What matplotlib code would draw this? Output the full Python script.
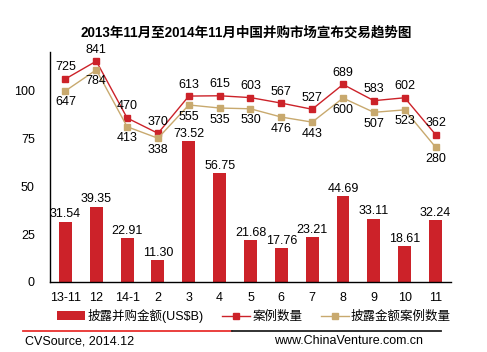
import numpy as np
import matplotlib
matplotlib.use('Agg')
import matplotlib.pyplot as plt
from matplotlib.lines import Line2D

plt.rcParams['font.family'] = ['Liberation Sans', 'Noto Sans CJK SC', 'DejaVu Sans']

months = ['13-11', '12', '14-1', '2', '3', '4', '5', '6', '7', '8', '9', '10', '11']
amount = [31.54, 39.35, 22.91, 11.30, 73.52, 56.75, 21.68, 17.76, 23.21, 44.69, 33.11, 18.61, 32.24]
cases = [725, 841, 470, 370, 613, 615, 603, 567, 527, 689, 583, 602, 362]
cases_disclosed = [647, 784, 413, 338, 555, 535, 530, 476, 443, 600, 507, 523, 280]

red = '#CC2229'
tan = '#C8A96E'
fs = 9

fig = plt.figure(figsize=(4.87, 3.52), dpi=100)
ax = fig.add_axes([0.1027, 0.199, 0.8233, 0.653])
x = np.arange(len(months))

bars = ax.bar(x, amount, width=0.42, color=red, label='披露并购金额(US$B)', zorder=2)
for xi, v in zip(x, amount):
    ax.annotate('%.2f' % v, (xi, v), xytext=(0, 1), textcoords='offset points',
                ha='center', va='bottom', fontsize=fs)

ax.set_xlim(-0.5, len(months) - 0.5)
ax.set_ylim(0, 120)
ax.set_yticks([0, 25, 50, 75, 100])
ax.set_xticks(x)
ax.set_xticklabels(months)
ax.tick_params(length=0, labelsize=fs)
ax.tick_params(axis='y', pad=11)
ax.tick_params(axis='x', pad=7)
for s in ['top', 'right']:
    ax.spines[s].set_visible(False)
ax.spines['left'].set_linewidth(1)
ax.spines['bottom'].set_linewidth(1)

ax2 = ax.twinx()
ax2.set_ylim(-600, 900)
ax2.axis('off')
l1, = ax2.plot(x, cases, color=red, lw=1, marker='s', ms=4.5, label='案例数量')
l2, = ax2.plot(x, cases_disclosed, color=tan, lw=1, marker='s', ms=4.5, label='披露金额案例数量')
for xi, v in zip(x, cases):
    ax2.annotate(str(v), (xi, v), xytext=(0, 4), textcoords='offset points',
                 ha='center', va='bottom', fontsize=fs)
for xi, v in zip(x, cases_disclosed):
    ax2.annotate(str(v), (xi, v), xytext=(0, -4), textcoords='offset points',
                 ha='center', va='top', fontsize=fs)

fig.text(0.505, 0.908, '2013年11月至2014年11月中国并购市场宣布交易趋势图',
         ha='center', va='center', fontsize=9.75, fontweight='bold',
         family=['Liberation Sans', 'Noto Sans CJK SC'])

fig.legend(handles=[bars, l1, l2], loc='center', bbox_to_anchor=(0.522, 0.102),
           ncol=3, frameon=False, fontsize=fs, handlelength=2.2,
           handletextpad=0.2, columnspacing=1.5)

fig.add_artist(Line2D([23 / 487, 232 / 487], [1 - 331 / 352] * 2, color='#E8302E', lw=1.3))
fig.add_artist(Line2D([232 / 487, 441 / 487], [1 - 331 / 352] * 2, color='#222222', lw=1.3))
fig.text(25 / 487, 1 - 341 / 352, 'CVSource, 2014.12', ha='left', va='center', fontsize=fs)
fig.text(423 / 487, 1 - 341 / 352, 'www.ChinaVenture.com.cn', ha='right', va='center', fontsize=fs)

fig.savefig('out.png', dpi=100)
